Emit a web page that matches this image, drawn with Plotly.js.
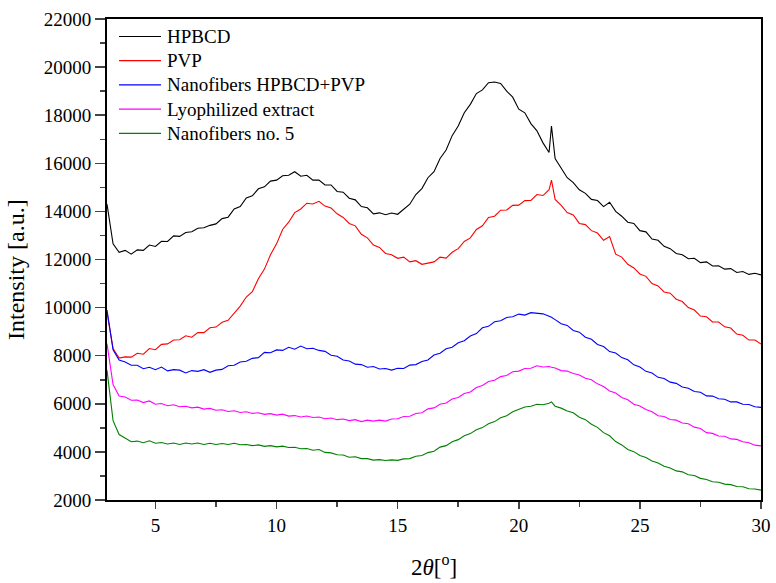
<!DOCTYPE html>
<html>
<head>
<meta charset="utf-8">
<script src="https://cdn.plot.ly/plotly-3.0.1.min.js"></script>
<style>html,body{margin:0;padding:0;background:#fff;}#chart{width:776px;height:583px;}</style>
</head>
<body>
<div id="chart"></div>
<script>
const twoTheta = [3.00,3.25,3.50,3.75,4.00,4.25,4.50,4.75,5.00,5.25,5.50,5.75,6.00,6.25,6.50,6.75,7.00,7.25,7.50,7.75,8.00,8.25,8.50,8.75,9.00,9.25,9.50,9.75,10.00,10.25,10.50,10.75,11.00,11.25,11.50,11.75,12.00,12.25,12.50,12.75,13.00,13.25,13.50,13.75,14.00,14.25,14.50,14.75,15.00,15.25,15.50,15.75,16.00,16.25,16.50,16.75,17.00,17.25,17.50,17.75,18.00,18.25,18.50,18.75,19.00,19.25,19.50,19.75,20.00,20.25,20.50,20.75,21.00,21.25,21.35,21.50,21.75,22.00,22.25,22.50,22.75,23.00,23.25,23.50,23.75,24.00,24.25,24.50,24.75,25.00,25.25,25.50,25.75,26.00,26.25,26.50,26.75,27.00,27.25,27.50,27.75,28.00,28.25,28.50,28.75,29.00,29.25,29.50,29.75,30.00];

const hpbcd = [14300,12650,12300,12380,12220,12400,12380,12600,12540,12760,
  12750,12980,12960,13120,13150,13300,13320,13420,13480,13700,
  13760,14100,14200,14560,14650,14940,15020,15260,15300,15480,
  15500,15650,15460,15500,15300,15300,15100,15100,14830,14800,
  14550,14480,14200,14150,13900,13940,13860,13930,13880,14100,
  14300,14700,14950,15400,15650,16200,16550,17150,17550,18100,
  18450,18900,19050,19350,19380,19320,19000,18750,18250,18100,
  17650,17350,16850,16450,17550,16200,15800,15400,15200,14900,
  14750,14500,14450,14200,14380,14000,13800,13550,13500,13200,
  13150,12850,12800,12550,12450,12250,12200,12030,12050,11870,
  11900,11730,11740,11600,11620,11460,11500,11380,11430,11360];

const pvp = [9800,8300,7900,7950,7940,8100,8060,8300,8250,8470,
  8490,8650,8660,8830,8770,8960,8960,9160,9190,9390,
  9470,9790,10060,10440,10660,11200,11600,12200,12650,13250,
  13550,13950,14100,14340,14310,14420,14220,14140,13900,13750,
  13500,13400,13050,12900,12600,12500,12250,12200,12050,12100,
  11900,11950,11800,11850,11900,12100,12060,12300,12450,12750,
  12900,13250,13400,13750,13800,14050,14060,14250,14260,14450,
  14460,14700,14660,14900,15300,14500,14250,13950,13850,13500,
  13450,13200,13100,12800,12950,12220,12100,11800,11650,11400,
  11300,11000,10900,10650,10600,10350,10250,10000,9900,9650,
  9620,9400,9400,9200,9150,8900,8850,8650,8650,8480];

const nanoHpbcdPvp = [9900,8250,7820,7740,7600,7600,7460,7520,7420,7530,
  7370,7420,7400,7280,7380,7350,7420,7310,7400,7430,
  7580,7600,7740,7770,7890,7920,8140,8120,8240,8220,
  8350,8270,8400,8290,8310,8220,8180,8020,7980,7820,
  7780,7650,7630,7520,7550,7450,7470,7400,7480,7470,
  7610,7630,7760,7820,8030,8100,8290,8350,8540,8620,
  8820,8920,9160,9220,9410,9450,9590,9620,9730,9690,
  9790,9750,9740,9640,9600,9500,9330,9260,9050,8980,
  8770,8680,8470,8380,8170,8110,7920,7830,7620,7530,
  7350,7280,7100,7050,6900,6850,6700,6650,6510,6480,
  6330,6320,6210,6190,6080,6080,5980,5970,5880,5850];

const lyophilized = [8500,6800,6320,6280,6150,6160,6050,6120,5980,6010,
  5920,5960,5880,5900,5830,5860,5780,5810,5730,5750,
  5680,5710,5640,5670,5600,5630,5560,5590,5530,5570,
  5490,5510,5450,5490,5430,5450,5380,5410,5340,5370,
  5300,5340,5260,5320,5280,5320,5280,5370,5380,5470,
  5480,5600,5630,5790,5830,5980,6030,6200,6260,6430,
  6490,6680,6760,6930,6980,7130,7180,7330,7360,7470,
  7480,7580,7530,7550,7520,7490,7380,7360,7260,7200,
  7060,7000,6830,6720,6530,6450,6260,6170,5980,5910,
  5760,5670,5500,5470,5350,5320,5200,5170,5030,4970,
  4800,4770,4660,4650,4540,4520,4420,4380,4280,4250];

const nanoNo5 = [7400,5300,4720,4580,4420,4450,4380,4460,4360,4390,
  4330,4370,4310,4370,4330,4370,4310,4360,4310,4350,
  4310,4360,4300,4310,4260,4290,4230,4260,4210,4240,
  4180,4190,4130,4140,4070,4100,3980,3960,3880,3870,
  3780,3800,3720,3720,3660,3680,3640,3670,3650,3710,
  3720,3820,3850,3970,4030,4200,4260,4420,4510,4670,
  4760,4920,5010,5170,5260,5420,5500,5670,5760,5870,
  5900,5980,5960,6020,6080,5900,5820,5700,5630,5440,
  5340,5150,5020,4800,4670,4430,4290,4100,4010,3850,
  3770,3620,3540,3400,3330,3210,3170,3050,3020,2900,
  2850,2760,2740,2660,2640,2560,2550,2470,2460,2410];

const seriesNames = ["HPBCD","PVP","Nanofibers HPBCD+PVP","Lyophilized extract","Nanofibers no. 5"];
const seriesColors = ["#000000","#ff0000","#0000ff","#ff00ff","#008000"];
const seriesValues = [hpbcd, pvp, nanoHpbcdPvp, lyophilized, nanoNo5];

const traces = seriesValues.map((vals, i) => ({
  x: twoTheta, y: vals, type: "scatter", mode: "lines",
  name: seriesNames[i], showlegend: false,
  line: {color: seriesColors[i], width: 1.1}
}));

const font = "Liberation Serif";
// Legend drawn in paper coordinates (plot area: 654 x 481 px)
const PW = 654, PH = 481;
const shapes = [], annotations = [];
seriesNames.forEach((name, i) => {
  const yPx = 17.5 + 24.2 * i;
  const yp = 1 - yPx / PH;
  shapes.push({type: "line", xref: "paper", yref: "paper",
    x0: 12 / PW, x1: 54 / PW, y0: yp, y1: yp,
    line: {color: seriesColors[i], width: 1.2}});
  annotations.push({xref: "paper", yref: "paper", x: 58 / PW, y: yp,
    xanchor: "left", yanchor: "middle", showarrow: false, text: name,
    font: {family: font, size: 19, color: "#000"}});
});
// y-axis title (slightly below the axis centre, as in the reference)
annotations.push({xref: "paper", yref: "paper", x: -91 / PW, y: 230 / PH,
  xanchor: "center", yanchor: "middle", showarrow: false, textangle: -90,
  text: "Intensity [a.u.]", font: {family: font, size: 24, color: "#000"}});

const layout = {
  width: 776, height: 583,
  margin: {l: 107, r: 15, t: 19, b: 83},
  paper_bgcolor: "#fff", plot_bgcolor: "#fff",
  font: {family: font, size: 19, color: "#000"},
  showlegend: false,
  shapes: shapes, annotations: annotations,
  xaxis: {
    range: [3, 30], tickvals: [5,10,15,20,25,30], ticks: "outside", ticklen: 7, tickwidth: 1.5,
    minor: {dtick: 2.5, tick0: 0, ticks: "outside", ticklen: 5, tickwidth: 1.5},
    showline: true, linewidth: 2, linecolor: "#000", mirror: true, showgrid: false, zeroline: false,
    tickfont: {family: font, size: 19},
    title: {text: "2<i>θ</i>[<sup>o</sup>]", font: {family: font, size: 23}, standoff: 24}
  },
  yaxis: {
    range: [2000, 22000], dtick: 2000, tick0: 0, tickformat: "d", ticks: "outside", ticklen: 10, tickwidth: 1.5,
    minor: {dtick: 1000, ticks: "outside", ticklen: 5, tickwidth: 1.5},
    showline: true, linewidth: 2, linecolor: "#000", mirror: true, showgrid: false, zeroline: false,
    tickfont: {family: font, size: 19}
  }
};
Plotly.newPlot("chart", traces, layout, {staticPlot: true, displayModeBar: false});
</script>
</body>
</html>
